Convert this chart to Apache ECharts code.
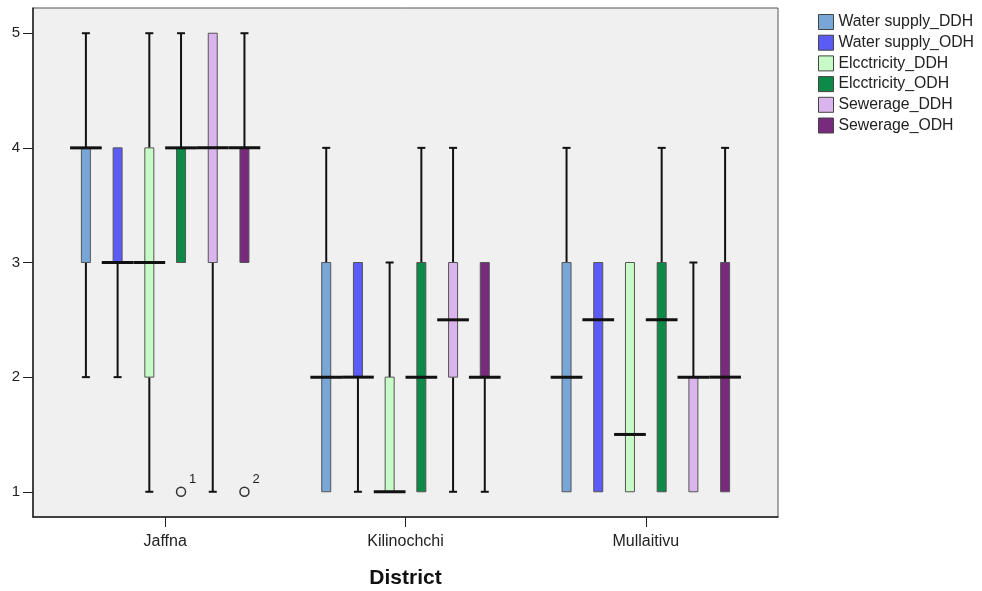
<!DOCTYPE html>
<html><head><meta charset="utf-8">
<script src="https://cdn.jsdelivr.net/npm/echarts@6/dist/echarts.min.js"></script>
<style>html,body{margin:0;padding:0;background:#fff}#c{width:982px;height:591px}</style>
</head><body><div id="c"></div>
<script>
const categories = ['Jaffna', 'Kilinochchi', 'Mullaitivu'];
const seriesNames = ['Water supply_DDH', 'Water supply_ODH', 'Elcctricity_DDH', 'Elcctricity_ODH', 'Sewerage_DDH', 'Sewerage_ODH'];
const colors = ['#78A6D6', '#5B5BF5', '#C8FAC8', '#0E8A48', '#DAB4EC', '#782A7C'];
// each row: [min, Q1, median, Q3, max] for Jaffna, Kilinochchi, Mullaitivu
const waterDDH = [[2, 3, 4, 4, 5], [1, 1, 2, 3, 4], [1, 1, 2, 3, 4]];
const waterODH = [[2, 3, 3, 4, 4], [1, 2, 2, 3, 3], [1, 1, 2.5, 3, 3]];
const elecDDH  = [[1, 2, 3, 4, 5], [1, 1, 1, 2, 3], [1, 1, 1.5, 3, 3]];
const elecODH  = [[3, 3, 4, 4, 5], [1, 1, 2, 3, 4], [1, 1, 2.5, 3, 4]];
const sewDDH   = [[1, 3, 4, 5, 5], [1, 2, 2.5, 3, 4], [1, 1, 2, 2, 3]];
const sewODH   = [[3, 3, 4, 4, 5], [1, 2, 2, 3, 3], [1, 1, 2, 3, 4]];
// outliers: [district index, series index, value, case label]
const outliers = [[0, 3, 1, '1'], [0, 5, 1, '2']];
const yTicks = [1, 2, 3, 4, 5];
const xTicks = [0, 1, 2];

const allStats = [waterDDH, waterODH, elecDDH, elecODH, sewDDH, sewODH];
const FONT = "'Liberation Sans', Arial, sans-serif";

function slotX(api, cat, si) {
  const unit = api.size([1, 0])[0];
  const step = (unit * 0.8 - 2) / 6;
  return { cx: api.coord([cat, 1])[0] + (si - 2.5) * step, step: step };
}

function renderBox(params, api) {
  const si = params.seriesIndex;
  const cat = api.value(0);
  const p = slotX(api, cat, si);
  const cx = p.cx, step = p.step;
  const v = [api.value(1), api.value(2), api.value(3), api.value(4), api.value(5)];
  const y = v.map(val => api.coord([cat, val])[1]);
  const bw = 9, cw = 8;
  const line = (x1, y1, x2, y2, w) => ({ type: 'line', shape: { x1, y1, x2, y2 }, style: { stroke: '#111', lineWidth: w } });
  const ch = [];
  if (v[4] > v[3]) { ch.push(line(cx, y[4], cx, y[3], 2)); ch.push(line(cx - cw / 2, y[4], cx + cw / 2, y[4], 2)); }
  if (v[0] < v[1]) { ch.push(line(cx, y[1], cx, y[0], 2)); ch.push(line(cx - cw / 2, y[0], cx + cw / 2, y[0], 2)); }
  ch.push({ type: 'rect', shape: { x: cx - bw / 2, y: y[3], width: bw, height: y[1] - y[3] },
            style: { fill: api.visual('color'), stroke: '#555', lineWidth: 1 } });
  ch.push(line(cx - step / 2, y[2], cx + step / 2, y[2], 3));
  return { type: 'group', children: ch };
}

function renderOutlier(params, api) {
  const cat = api.value(0), si = api.value(1), val = api.value(2);
  const cx = slotX(api, cat, si).cx;
  const cy = api.coord([cat, val])[1];
  return { type: 'group', children: [
    { type: 'circle', shape: { cx: cx, cy: cy, r: 4.5 }, style: { fill: '#F0F0F0', stroke: '#333', lineWidth: 1.5 } },
    { type: 'text', x: cx + 8, y: cy - 19, style: { text: outliers[params.dataIndex][3], fontSize: 13, fontFamily: FONT, fill: '#222' } }
  ] };
}

const series = seriesNames.map((name, si) => ({
  name: name,
  type: 'custom',
  renderItem: renderBox,
  itemStyle: { color: colors[si] },
  encode: { x: 0, y: [1, 2, 3, 4, 5] },
  data: allStats[si].map((s, ci) => [ci].concat(s)),
  z: 2
}));
series.push({
  name: 'Outliers',
  type: 'custom',
  renderItem: renderOutlier,
  encode: { x: 0, y: 2 },
  data: outliers.map(o => [o[0], o[1], o[2]]),
  z: 3
});

const chart = echarts.init(document.getElementById('c'), null, { renderer: 'canvas' });
chart.setOption({
  animation: false,
  backgroundColor: '#fff',
  textStyle: { fontFamily: FONT },
  grid: { left: 33, right: 204, top: 8, bottom: 74, outerBoundsMode: 'none', containLabel: false,
          show: true, backgroundColor: '#F0F0F0', borderColor: '#555', borderWidth: 1 },
  legend: {
    data: seriesNames,
    orient: 'vertical', left: 813, top: 9,
    itemWidth: 15, itemHeight: 15, itemGap: 4.7,
    icon: 'rect',
    itemStyle: { borderColor: '#444', borderWidth: 1 },
    textStyle: { fontSize: 15.8, color: '#222', fontFamily: FONT }
  },
  xAxis: {
    type: 'value', min: -0.55, max: 2.55,
    name: 'District', nameLocation: 'middle', nameGap: 51,
    nameTextStyle: { fontSize: 21, fontWeight: 'bold', color: '#111', fontFamily: FONT },
    splitLine: { show: false },
    axisLine: { show: true, onZero: false, lineStyle: { color: '#222', width: 1.5 } },
    axisTick: { show: true, customValues: xTicks, length: 10, lineStyle: { color: '#222' } },
    axisLabel: { customValues: xTicks, formatter: v => categories[Math.round(v)], fontSize: 16, color: '#222', margin: 17, fontFamily: FONT }
  },
  yAxis: {
    type: 'value', min: 0.78, max: 5.22,
    splitLine: { show: false },
    axisLine: { show: true, onZero: false, lineStyle: { color: '#222', width: 1.5 } },
    axisTick: { show: true, customValues: yTicks, length: 10, lineStyle: { color: '#222' } },
    axisLabel: { customValues: yTicks, fontSize: 15, color: '#222', margin: 13, fontFamily: FONT }
  },
  series: series
});
</script>
</body></html>
